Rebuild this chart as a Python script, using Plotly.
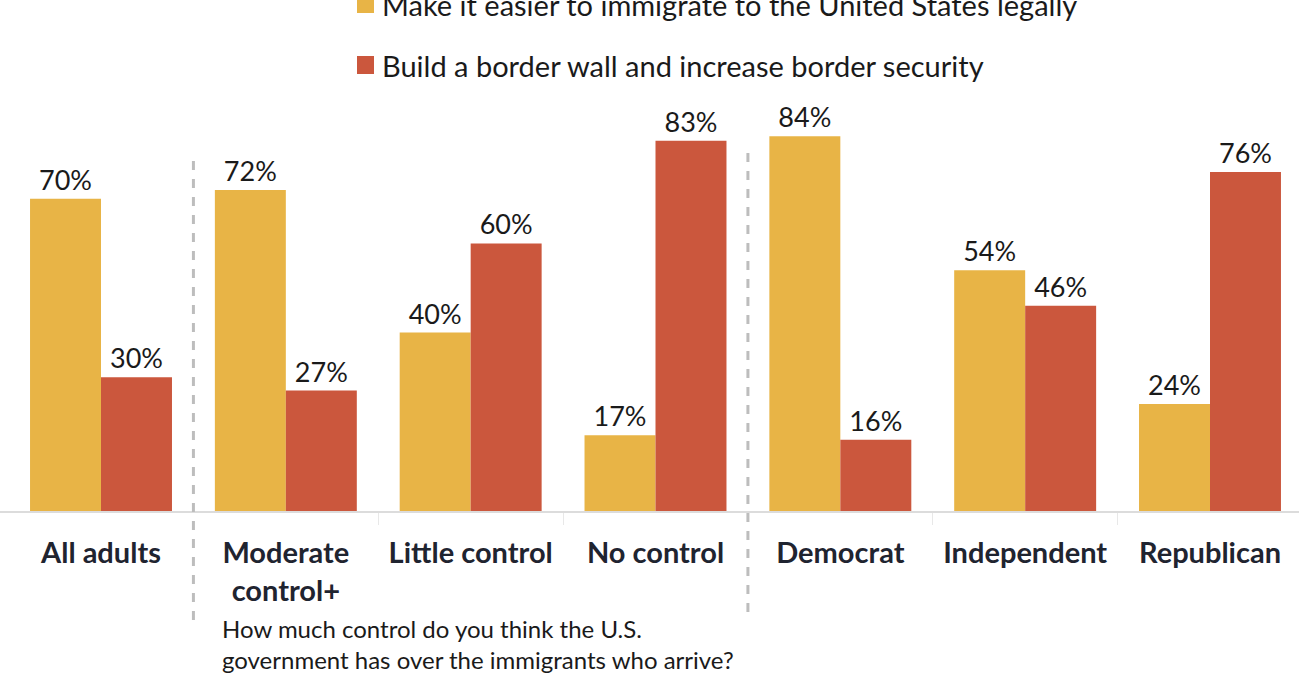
import plotly.graph_objects as go

categories = ["All adults", "Moderate<br>control+", "Little control", "No control",
              "Democrat", "Independent", "Republican"]
easier_legal = [70, 72, 40, 17, 84, 54, 24]
border_wall = [30, 27, 60, 83, 16, 46, 76]
series_names = ["Make it easier to immigrate to the United States legally",
                "Build a border wall and increase border security"]
question = "How much control do you think the U.S.<br>government has over the immigrants who arrive?"

YELLOW = "#E8B446"
RED = "#CB573D"
FONT = "Lato"

W, H = 1299, 674
BASE = 511  # baseline pixel row
PX_PER_PCT = 4.46

xpos = list(range(len(categories)))

fig = go.Figure()
for name, vals, col in [(series_names[0], easier_legal, YELLOW),
                        (series_names[1], border_wall, RED)]:
    fig.add_trace(go.Bar(
        x=xpos, y=vals, name=name, marker=dict(color=col, line=dict(width=0)),
        text=[f"{v}%" for v in vals], textposition="outside",
        textfont=dict(family=FONT, size=27, color="#1a1a1a"),
        cliponaxis=False, showlegend=False,
    ))

spacing = 184.83
x0 = -101 / spacing
x1 = 6 + (W - 1210) / spacing

fig.update_layout(
    width=W, height=H,
    margin=dict(l=0, r=0, t=0, b=H - BASE, autoexpand=False),
    paper_bgcolor="white", plot_bgcolor="white",
    barmode="group", bargap=0.232, bargroupgap=0,
    xaxis=dict(range=[x0, x1], tickvals=xpos, ticktext=[f"<b>{c}</b>" for c in categories],
               tickfont=dict(family=FONT, size=29, color="#1f2430"),
               ticks="", showline=True, linecolor="#dcdcdc", linewidth=2,
               showgrid=False, zeroline=False, ticklabelstandoff=15,
               minor=dict(tickvals=[1.5, 2.5, 4.5, 5.5], ticks="outside",
                          ticklen=12, tickcolor="#e8e8e8", tickwidth=1, showgrid=False)),
    yaxis=dict(range=[0, BASE / PX_PER_PCT], visible=False, showgrid=False, zeroline=False),
    showlegend=False,
)

for xs, ytop, ybot in [(0.5, 155, 620), (3.5, 150, 612)]:
    fig.add_shape(type="line", xref="x", yref="paper",
                  x0=xs, x1=xs, y0=(BASE - ybot) / BASE, y1=(BASE - ytop) / BASE,
                  line=dict(color="#bdbdbd", width=3, dash="dash"))

leg_items = [(series_names[0], YELLOW, 4), (series_names[1], RED, 65)]
for name, col, yc in leg_items:
    fig.add_shape(type="rect", xref="paper", yref="paper",
                  x0=357 / W, x1=374 / W,
                  y0=(BASE - (yc + 9)) / BASE, y1=(BASE - (yc - 9)) / BASE,
                  fillcolor=col, line=dict(width=0))
    fig.add_annotation(text=name, xref="paper", yref="paper",
                       x=380 / W, y=(BASE - yc) / BASE, xanchor="left", yanchor="middle",
                       showarrow=False, font=dict(family=FONT, size=29, color="#1a1a1a"))

fig.add_annotation(text=question, xref="paper", yref="paper", x=220 / W, y=0,
                   xanchor="left", yanchor="middle", yshift=-(644 - BASE), align="left",
                   showarrow=False, font=dict(family=FONT, size=24, color="#1a1a1a"))

fig.write_html("out.html", config={"displayModeBar": False},
               post_script="document.body.style.margin='0';")
